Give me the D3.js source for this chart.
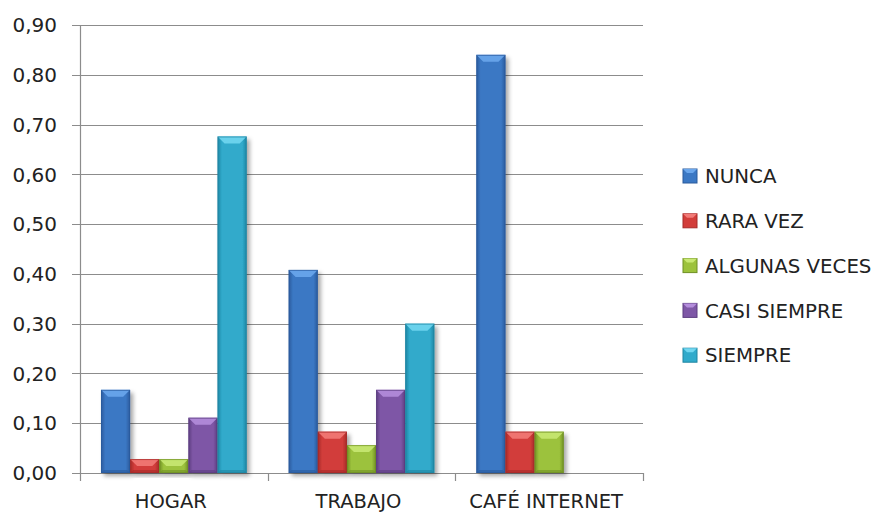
<!DOCTYPE html>
<html>
<head>
<meta charset="utf-8">
<script src="https://cdn.jsdelivr.net/npm/d3@7"></script>
<style>
  html, body { margin: 0; padding: 0; background: #ffffff; }
  svg { display: block; }
  text { font-family: "DejaVu Sans", sans-serif; fill: #222222; }
</style>
</head>
<body>
<svg id="chart" width="874" height="513"></svg>
<script>
// ---- Data ----
const categories = ["HOGAR", "TRABAJO", "CAFÉ INTERNET"];
const seriesNames = ["NUNCA", "RARA VEZ", "ALGUNAS VECES", "CASI SIEMPRE", "SIEMPRE"];
const nunca        = [0.167, 0.408, 0.840];
const raraVez      = [0.028, 0.083, 0.083];
const algunasVeces = [0.028, 0.056, 0.083];
const casiSiempre  = [0.111, 0.167, 0];
const siempre      = [0.676, 0.300, 0];
const yTicks = [0, 0.1, 0.2, 0.3, 0.4, 0.5, 0.6, 0.7, 0.8, 0.9];

const seriesValues = [nunca, raraVez, algunasVeces, casiSiempre, siempre];
const palette = [
  { base: "#3b78c4", dark: "#2a5a9c", light: "#6aa6ec" },
  { base: "#d23d3a", dark: "#a52a28", light: "#f27a77" },
  { base: "#9cc23c", dark: "#6f8f24", light: "#c8e872" },
  { base: "#7e57a6", dark: "#5c3d80", light: "#b48ddc" },
  { base: "#30aacb", dark: "#1e85a2", light: "#70d6f0" }
];

const svg = d3.select("#chart");
const defs = svg.append("defs");

const filt = defs.append("filter").attr("id", "shadow")
  .attr("x", "-20%").attr("y", "-20%").attr("width", "150%").attr("height", "150%");
filt.append("feDropShadow").attr("dx", 3).attr("dy", 3)
  .attr("stdDeviation", 2).attr("flood-color", "#000").attr("flood-opacity", 0.35);

palette.forEach((c, i) => {
  const g = defs.append("linearGradient").attr("id", "grad" + i)
    .attr("x1", "0%").attr("x2", "100%").attr("y1", "0%").attr("y2", "0%");
  g.append("stop").attr("offset", "0%").attr("stop-color", c.dark);
  g.append("stop").attr("offset", "15%").attr("stop-color", c.base);
  g.append("stop").attr("offset", "50%").attr("stop-color", c.base);
  g.append("stop").attr("offset", "85%").attr("stop-color", c.base);
  g.append("stop").attr("offset", "100%").attr("stop-color", c.dark);
});

// ---- Scales ----
const x0 = d3.scaleBand().domain(categories).range([80, 643]).paddingInner(0).paddingOuter(0);
const x1 = d3.scaleBand().domain(seriesNames).range([0, x0.bandwidth()]).paddingInner(0).paddingOuter(0.72);
const y = d3.scaleLinear().domain([0, 0.9]).range([473, 25]);

const fmt = d => d3.format(".2f")(d).replace(".", ",");

// ---- Gridlines ----
const gridColor = "#8c8c8c";
svg.append("g").selectAll("line").data(yTicks).join("line")
  .attr("x1", 72).attr("x2", 643)
  .attr("y1", d => Math.round(y(d)) + 0.5).attr("y2", d => Math.round(y(d)) + 0.5)
  .attr("stroke", gridColor).attr("stroke-width", 1.2);

// y axis line
svg.append("line").attr("x1", 80.5).attr("x2", 80.5).attr("y1", y(0.9)).attr("y2", 481)
  .attr("stroke", gridColor).attr("stroke-width", 1.2);

// category ticks
const catBounds = categories.map(c => x0(c)).concat([x0(categories[categories.length - 1]) + x0.bandwidth()]);
svg.append("g").selectAll("line").data(catBounds.slice(1)).join("line")
  .attr("x1", d => Math.round(d) + 0.5).attr("x2", d => Math.round(d) + 0.5)
  .attr("y1", y(0)).attr("y2", 481)
  .attr("stroke", gridColor).attr("stroke-width", 1.2);

// y labels
svg.append("g").selectAll("text").data(yTicks).join("text")
  .attr("x", 57).attr("y", d => y(d)).attr("dy", "0.36em")
  .attr("text-anchor", "end").attr("font-size", 20)
  .text(fmt);

// x labels
svg.append("g").selectAll("text").data(categories).join("text")
  .attr("x", d => x0(d) + x0.bandwidth() / 2 - 3).attr("y", 508)
  .attr("text-anchor", "middle").attr("font-size", 19.5)
  .text(d => d);

// ---- Bars ----
function drawBevelBar(g, bx, by, bw, bh, i) {
  const c = palette[i];
  const b = Math.min(7, bh / 2);
  const grp = g.append("g");
  grp.append("rect").attr("x", bx).attr("y", by).attr("width", bw).attr("height", bh)
    .attr("fill", "url(#grad" + i + ")").attr("filter", "url(#shadow)");
  grp.append("path")
    .attr("d", `M${bx},${by} L${bx + bw},${by} L${bx + bw - b},${by + b} L${bx + b},${by + b} Z`)
    .attr("fill", c.light).attr("opacity", 0.9);
  grp.append("path")
    .attr("d", `M${bx},${by + bh} L${bx + bw},${by + bh} L${bx + bw - 3},${by + bh - 3} L${bx + 3},${by + bh - 3} Z`)
    .attr("fill", c.dark).attr("opacity", 0.6);
  grp.append("rect").attr("x", bx + 0.5).attr("y", by + 0.5).attr("width", bw - 1).attr("height", bh - 1)
    .attr("fill", "none").attr("stroke", c.dark).attr("stroke-width", 1).attr("opacity", 0.7);
}

const barsG = svg.append("g");
categories.forEach((cat, ci) => {
  seriesNames.forEach((s, si) => {
    const v = seriesValues[si][ci];
    if (!v) return;
    const bx = x0(cat) + x1(s);
    const by = y(v);
    drawBevelBar(barsG, bx, by, x1.bandwidth(), y(0) - by, si);
  });
});

// ---- Legend ----
const legend = svg.append("g");
seriesNames.forEach((s, i) => {
  const cy = 176 + i * 44.8;
  const c = palette[i];
  legend.append("rect").attr("x", 683).attr("y", cy - 7).attr("width", 14).attr("height", 14)
    .attr("fill", c.base).attr("stroke", c.dark).attr("stroke-width", 1);
  legend.append("path")
    .attr("d", `M683,${cy - 7} L697,${cy - 7} L693,${cy - 3} L687,${cy - 3} Z`)
    .attr("fill", c.light);
  legend.append("text").attr("x", 705).attr("y", cy).attr("dy", "0.36em")
    .attr("font-size", 19.8).text(s);
});
</script>
</body>
</html>
